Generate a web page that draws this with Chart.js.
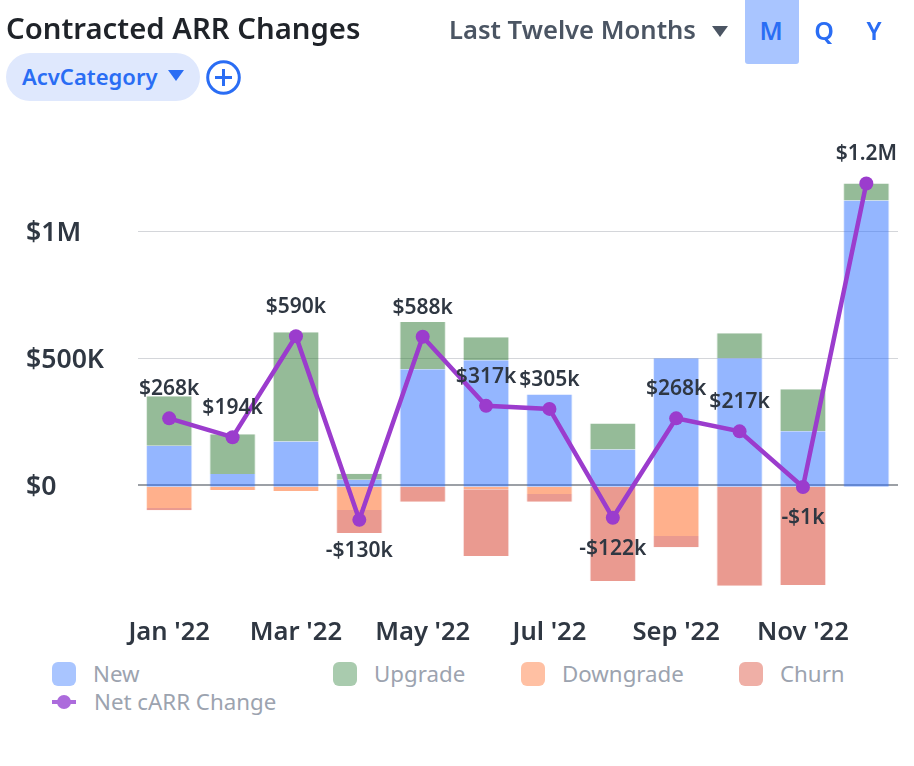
<!DOCTYPE html>
<html><head><meta charset="utf-8">
<script src="https://cdn.jsdelivr.net/npm/chart.js@4"></script>
<style>
html,body{margin:0;padding:0;background:#fff;width:914px;height:766px;overflow:hidden;font-family:"Noto Sans",sans-serif}
#c{position:absolute;left:0;top:0}
.t{position:absolute;white-space:nowrap;line-height:1}
#title{left:6px;top:14px;font-size:29.3px;font-weight:600;color:#1f2329}
#pill{position:absolute;left:6px;top:53px;width:194px;height:48px;border-radius:24px;background:#dfe8fd}
#pillt{left:22px;top:65px;font-size:22px;font-weight:600;color:#2a6df4}
#range{left:449px;top:17px;font-size:25.6px;font-weight:600;color:#4b5563}
.tri{position:absolute;width:0;height:0;border-left:8px solid transparent;border-right:8px solid transparent}
#active{position:absolute;left:745px;top:0;width:54px;height:64px;border-radius:0 0 3px 3px;background:#a9c5ff}
.per{top:18px;font-size:25px;font-weight:600;color:#2a6df4;transform:translateX(-50%)}
#plus{position:absolute;left:206px;top:60px;width:35px;height:35px}
.leg{position:absolute;font-size:22.3px;color:#9ca3af;line-height:1;white-space:nowrap}
.sw{position:absolute;width:24px;height:24px;border-radius:6px}
</style></head><body>
<canvas id="c" width="914" height="650"></canvas>
<div class="t" id="title">Contracted ARR Changes</div>
<div id="pill"></div><div class="t" id="pillt">AcvCategory</div>
<div class="tri" style="left:168px;top:70px;border-top:11px solid #2a6df4"></div>
<svg id="plus" viewBox="0 0 35 35"><circle cx="17.5" cy="17.5" r="15.8" fill="none" stroke="#2a6df4" stroke-width="3"/><path d="M9 17.5H26M17.5 9V26" stroke="#2a6df4" stroke-width="3"/></svg>
<div class="t" id="range">Last Twelve Months</div>
<div class="tri" style="left:712px;top:26px;border-top:11px solid #4b5563"></div>
<div id="active"></div>
<div class="t per" style="left:771px">M</div>
<div class="t per" style="left:824px">Q</div>
<div class="t per" style="left:874px">Y</div>
<div id="legend"></div>
<script>
const categories=["Jan '22","Feb '22","Mar '22","Apr '22","May '22","Jun '22","Jul '22","Aug '22","Sep '22","Oct '22","Nov '22","Dec '22"];
const newValues=[161,50,177,27,461,496,362,146,504,504,217,1122];
const upgradeValues=[194,156,429,24,185,90,0,102,0,98,165,67];
const downgradeValues=[-84,-13,-17,-91,0,-10,-29,0,-193,0,0,0];
const churnValues=[-8,0,0,-91,-59,-262,-30,-370,-44,-388,-385,0];
const netValues=[268,194,590,-130,588,317,305,-122,268,217,-1,1189];
const netLabels=["$268k","$194k","$590k","-$130k","$588k","$317k","$305k","-$122k","$268k","$217k","-$1k","$1.2M"];
const yTicks=[0,500,1000];
const yTickLabels={0:"$0",500:"$500K",1000:"$1M"};
const INK="#2f3742";
const FONT='"Noto Sans",sans-serif';
const seriesNames=["New","Upgrade","Downgrade","Churn","Net cARR Change"];

const barSet=(label,data,rgb)=>({type:'bar',label,data,yAxisID:'y',stack:'s',
  backgroundColor:`rgba(${rgb},0.5)`,borderColor:`rgba(${rgb},0.14)`,borderWidth:{left:1,right:1,top:0,bottom:0},
  barPercentage:0.73,categoryPercentage:1,order:2});

const labelPlugin={id:'netLabels',afterDatasetsDraw(chart){
  const ctx=chart.ctx,meta=chart.getDatasetMeta(4);
  ctx.save();ctx.font='600 21px '+FONT;ctx.fillStyle=INK;ctx.textAlign='center';ctx.textBaseline='middle';
  meta.data.forEach((p,i)=>{ctx.fillText(netLabels[i],p.x,p.y+(netValues[i]<0?31:-29));});
  ctx.restore();}};

new Chart(document.getElementById('c'),{
  data:{labels:categories,datasets:[
    barSet(seriesNames[0],newValues,'41,110,255'),
    barSet(seriesNames[1],upgradeValues,'43,120,50'),
    barSet(seriesNames[2],downgradeValues,'255,97,25'),
    barSet(seriesNames[3],churnValues,'213,53,33'),
    {type:'line',label:seriesNames[4],data:netValues,yAxisID:'y',order:1,borderColor:'#9b3ccd',backgroundColor:'#9b3ccd',
     borderWidth:4.5,pointRadius:7,pointHoverRadius:7,pointBorderWidth:0,tension:0}
  ]},
  plugins:[labelPlugin],
  options:{responsive:false,animation:false,devicePixelRatio:1,
    layout:{padding:{left:26,top:130,right:16,bottom:0}},
    plugins:{legend:{display:false},tooltip:{enabled:false}},
    scales:{
      x:{stacked:true,grid:{display:false},border:{display:false},
        afterFit(s){s.height=50;},
        ticks:{autoSkip:false,maxRotation:0,padding:9,color:INK,font:{family:FONT,size:25.6,weight:'600'},
          callback(v,i){return i%2===0?categories[i]:'';}}},
      y:{display:false,stacked:true,min:-444.3,max:1398.8},
      y2:{position:'left',min:-453.6,max:1400.4,border:{display:false},
        afterBuildTicks(s){s.ticks=yTicks.map(value=>({value}));},
        afterFit(s){s.width=111.5;},
        grid:{drawTicks:false,lineWidth:c=>c.tick&&c.tick.value===0?2:1,color:c=>c.tick&&c.tick.value===0?'#9ca0a6':'#d4d6da'},
        ticks:{crossAlign:'far',padding:0,labelOffset:2,color:INK,font:{family:FONT,size:26.6,weight:'600'},callback:v=>yTickLabels[v]}}
    }}
});

const legendSpots=[[52,662,'#a9c5ff'],[333,662,'#a9cbae'],[521,662,'#ffc0a3'],[739,662,'#efafa6']];
const lg=document.getElementById('legend');
seriesNames.forEach((n,i)=>{
  const tx=document.createElement('div');tx.className='leg';tx.textContent=n;
  if(i<4){
    const [x,y,col]=legendSpots[i];
    const s=document.createElement('div');s.className='sw';s.style.cssText=`left:${x}px;top:${y}px;background:${col}`;lg.appendChild(s);
    tx.style.left=(x+41)+'px';tx.style.top='663px';
  }else{
    const s=document.createElement('div');s.style.cssText='position:absolute;left:52px;top:700px;width:24px;height:4px;background:#ac6bdc';lg.appendChild(s);
    const d=document.createElement('div');d.style.cssText='position:absolute;left:57px;top:695px;width:14px;height:14px;border-radius:50%;background:#ac6bdc';lg.appendChild(d);
    tx.style.left='94px';tx.style.top='691px';
  }
  lg.appendChild(tx);
});
</script>
</body></html>
